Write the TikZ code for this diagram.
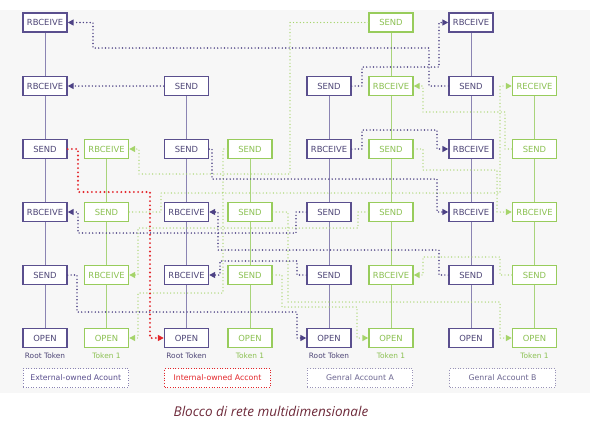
\documentclass[tikz,border=0pt]{standalone}
\usepackage{fontspec}
\setmainfont{DejaVu Sans}
\newfontfamily\capfont{Open Sans}
\usetikzlibrary{arrows.meta}
\pgfdeclarelayer{bg}
\pgfsetlayers{bg,main}
\definecolor{pBorder}{HTML}{5A4F8E}
\definecolor{pText}{HTML}{4E4677}
\definecolor{pLine}{HTML}{8B84B3}
\definecolor{pDot}{HTML}{4D4285}
\definecolor{gBorder}{HTML}{98CC5C}
\definecolor{gText}{HTML}{8CC152}
\definecolor{gLine}{HTML}{A9D47B}
\definecolor{gDot}{HTML}{A5D46A}
\definecolor{redC}{HTML}{E3262B}
\definecolor{bgC}{HTML}{F7F7F7}
\definecolor{accGrey}{HTML}{9A94B8}
\definecolor{accText}{HTML}{6B6590}
\definecolor{capC}{HTML}{6E2A3A}
\begin{document}
\begin{tikzpicture}[x=1pt,y=-1pt,
  pbox/.style={draw=pBorder, line width=1.4pt, fill=white, text=pText, minimum width=44pt, minimum height=19pt, inner sep=0pt, font=\fontsize{8.4}{9}\selectfont},
  gbox/.style={pbox, draw=gBorder, text=gText},
  pline/.style={draw=pLine, line width=1pt},
  gline/.style={draw=gLine, line width=1pt},
  pdot/.style={draw=pDot, line width=1.6pt, dash pattern=on 0pt off 3.4pt, line cap=round, -{Triangle[length=6pt,width=6pt]}},
  gdot/.style={pdot, draw=gDot, line width=1.4pt},
  rdot/.style={pdot, draw=redC, line width=2.1pt, dash pattern=on 0pt off 4.2pt},
  lbl/.style={font=\fontsize{7.4}{8}\selectfont, inner sep=0pt},
  acc/.style={draw=accGrey, line width=0.9pt, dash pattern=on 1pt off 1.6pt, fill=white, minimum width=105.5pt, minimum height=19pt, inner sep=0pt, text=accText, font=\fontsize{7.8}{8.5}\selectfont},
]
\useasboundingbox (0,0) rectangle (590,426);
\begin{pgfonlayer}{bg}
\fill[bgC] (0,10) rectangle (590,393);
\end{pgfonlayer}

% column 1 (purple)
\node[pbox] (n10) at (45,22.5) {RBCEIVE};
\node[pbox] (n11) at (45,86) {RBCEIVE};
\node[pbox] (n12) at (45,149) {SEND};
\node[pbox] (n13) at (45,212) {RBCEIVE};
\node[pbox] (n14) at (45,275) {SEND};
\node[pbox] (n15) at (45,338) {OPEN};
% column 2 (green)
\node[gbox] (n22) at (106.5,149) {RBCEIVE};
\node[gbox] (n23) at (106.5,212) {SEND};
\node[gbox] (n24) at (106.5,275) {RBCEIVE};
\node[gbox] (n25) at (106.5,338) {OPEN};
% column 3 (purple)
\node[pbox] (n31) at (186.5,86) {SEND};
\node[pbox] (n32) at (186.5,149) {SEND};
\node[pbox] (n33) at (186.5,212) {RBCEIVE};
\node[pbox] (n34) at (186.5,275) {RBCEIVE};
\node[pbox] (n35) at (186.5,338) {OPEN};
% column 4 (green)
\node[gbox] (n42) at (250,149) {SEND};
\node[gbox] (n43) at (250,212) {SEND};
\node[gbox] (n44) at (250,275) {SEND};
\node[gbox] (n45) at (250,338) {OPEN};
% column 5 (purple)
\node[pbox] (n51) at (329,86) {SEND};
\node[pbox] (n52) at (329,149) {RBCEIVE};
\node[pbox] (n53) at (329,212) {SEND};
\node[pbox] (n54) at (329,275) {SEND};
\node[pbox] (n55) at (329,338) {OPEN};
% column 6 (green)
\node[gbox] (n60) at (391,22.5) {SEND};
\node[gbox] (n61) at (391,86) {RBCEIVE};
\node[gbox] (n62) at (391,149) {SEND};
\node[gbox] (n63) at (391,212) {SEND};
\node[gbox] (n64) at (391,275) {RBCEIVE};
\node[gbox] (n65) at (391,338) {OPEN};
% column 7 (purple)
\node[pbox] (n70) at (471,22.5) {RBCEIVE};
\node[pbox] (n71) at (471,86) {SEND};
\node[pbox] (n72) at (471,149) {RBCEIVE};
\node[pbox] (n73) at (471,212) {RBCEIVE};
\node[pbox] (n74) at (471,275) {SEND};
\node[pbox] (n75) at (471,338) {OPEN};
% column 8 (green)
\node[gbox] (n81) at (534.5,86) {RECEIVE};
\node[gbox] (n82) at (534.5,149) {SEND};
\node[gbox] (n83) at (534.5,212) {RBCEIVE};
\node[gbox] (n84) at (534.5,275) {SEND};
\node[gbox] (n85) at (534.5,338) {OPEN};

% solid vertical lines
\begin{pgfonlayer}{bg}
\draw[pline] (n10) -- (n15);
\draw[gline] (n22) -- (n25);
\draw[pline] (n31) -- (n35);
\draw[gline] (n42) -- (n45);
\draw[pline] (n51) -- (n55);
\draw[gline] (n60) -- (n65);
\draw[pline] (n70) -- (n75);
\draw[gline] (n81) -- (n85);
\end{pgfonlayer}

% green dotted connectors
\draw[gdot] (n60.west) -| (290,174) -| (139,149) -- (n22.east);
\draw[gdot] (n82.west) -| (505,112) -| (423,86) -- (n61.east);
\draw[gdot] (n23.east) -| (161,193) -| (500,86) -- (n81.west);
\draw[gdot] (n62.east) -| (423,170) -| (497,212) -- (n83.west);
\draw[gdot] (n42.west) -| (223,293) -| (138,338) -- (n25.east);
\draw[gdot] (n63.west) -| (358,228) -| (138,275) -- (n24.east);
\draw[gdot] (n44.east) -| (282,307) -| (357,338) -- (n65.west);
\draw[gdot] (n43.east) -| (288,302) -| (500,338) -- (n85.west);
\draw[gdot] (n84.west) -| (500,257) -| (423,275) -- (n64.east);

% purple dotted connectors
\draw[pdot] (n71.west) -| (429,48) -| (93,22.5) -- (n10.east);
\draw[pdot] (n31.west) -- (n11.east);
\draw[pdot] (n51.east) -| (362,67) -| (439,22.5) -- (n70.west);
\draw[pdot] (n52.east) -| (362,130) -| (437,149) -- (n72.west);
\draw[pdot] (n32.east) -| (212,179) -| (437,212) -- (n73.west);
\draw[pdot] (n53.west) -| (296,233) -| (78,212) -- (n13.east);
\draw[pdot] (n74.west) -| (439,250) -| (218,212) -- (n33.east);
\draw[pdot] (n54.west) -| (297,261) -| (220,275) -- (n34.east);
\draw[pdot] (n14.east) -| (77,312) -| (297,338) -- (n55.west);

% red dotted connector
\draw[rdot] (n12.east) -| (78,192) -| (150,338) -- (n35.west);

% token labels
\node[lbl, text=pText] (t1) at (45,356) {Root Token};
\node[lbl, text=gText] (t2) at (106.5,356) {Token 1};
\node[lbl, text=pText] (t3) at (186.5,356) {Root Token};
\node[lbl, text=gText] (t4) at (250,356) {Token 1};
\node[lbl, text=pText] (t5) at (329,356) {Root Token};
\node[lbl, text=gText] (t6) at (391,356) {Token 1};
\node[lbl, text=gText] (t8) at (534.5,356) {Token 1};

% account boxes
\node[acc, draw=pLine, text=pBorder] (a1) at (75.75,378) {External-owned Acount};
\node[acc, draw=redC, text=redC] (a2) at (217.5,378) {Internal-owned Accont};
\node[acc] (a3) at (360,378) {Genral Account A};
\node[acc] (a4) at (502.5,378) {Genral Account B};

% caption
\node[text=capC, font=\capfont\itshape\fontsize{13.5}{15}\selectfont, inner sep=0pt] (cap) at (271,411) {Blocco di rete multidimensionale};
\end{tikzpicture}
\end{document}
